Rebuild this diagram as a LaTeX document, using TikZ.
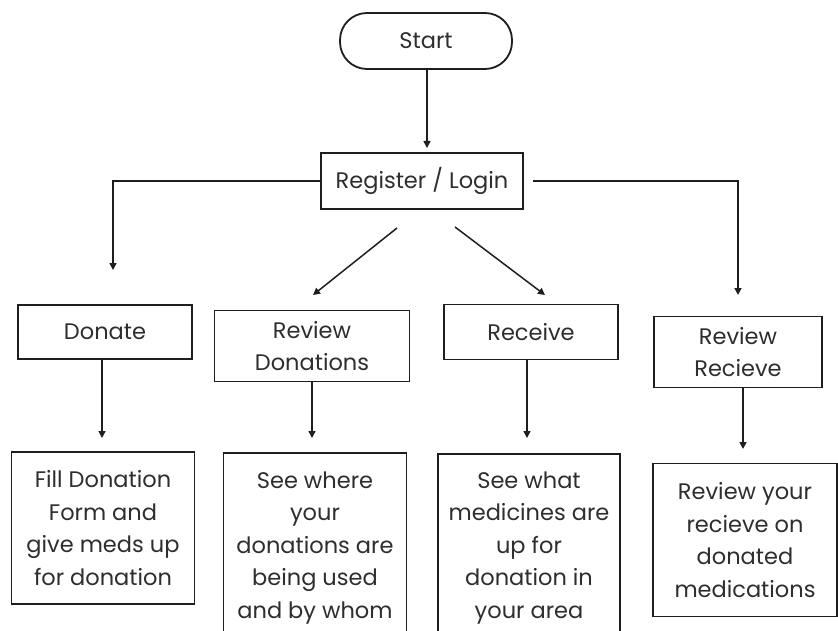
\documentclass[tikz,border=0pt]{standalone}
\usepackage{fontspec}
\setmainfont{Poppins}
\usetikzlibrary{arrows.meta}
\definecolor{txt}{HTML}{2E2E2E}
\definecolor{ln}{HTML}{1E1E1E}
\tikzset{
  boxfont/.style={font=\fontsize{22.5}{32.5}\selectfont},
  box/.style={draw=ln, line width=1.8pt, inner sep=0pt, text=txt, align=center, boxfont},
  pill/.style={box, rounded corners=27pt},
  arr/.style={draw=ln, line width=1.5pt, -{Triangle[length=7pt,width=7pt]}},
}
\begin{document}
\begin{tikzpicture}[x=1pt,y=-1pt]
\useasboundingbox (0,0) rectangle (838,631);
\fill[white] (0,0) rectangle (838,631);
\clip (0,0) rectangle (838,631);
% nodes
\node[pill, minimum width=172pt, minimum height=56pt] (start) at (426,41) {Start};
\node[box, minimum width=202pt, minimum height=56pt] (reg) at (422,181) {Register / Login};
\node[box, minimum width=174pt, minimum height=54pt] (donate) at (105,332) {Donate};
\node[box, minimum width=195pt, minimum height=71pt] (revdon) at (312,346) {Review\\Donations};
\node[box, minimum width=174pt, minimum height=55pt] (receive) at (531,332) {Receive};
\node[box, minimum width=168pt, minimum height=71pt] (revrec) at (738,352) {Review\\Recieve};
\node[box, minimum width=183pt, minimum height=152pt] (fill) at (103,528) {Fill Donation\\Form and\\give meds up\\for donation};
\node[box, minimum width=183pt, minimum height=200pt, anchor=north] (seewhere) at (315,452) {};
\node[text=txt, align=center, boxfont, anchor=north] (seewheretext) at (315,468) {See where\\your\\donations are\\being used\\and by whom};
\node[box, minimum width=182pt, minimum height=200pt, anchor=north] (seewhat) at (529,453) {};
\node[text=txt, align=center, boxfont, anchor=north] (seewhattext) at (529,468) {See what\\medicines are\\up for\\donation in\\your area};
\node[box, minimum width=184pt, minimum height=153pt] (revyour) at (745,540) {Review your\\recieve on\\donated\\medications};
% connector ends
\coordinate (t0) at (427,148);
\coordinate (tl) at (113,270);
\coordinate (tr) at (738,295);
\coordinate (d1s) at (397,228);
\coordinate (d1e) at (313,295);
\coordinate (d2s) at (455,227);
\coordinate (d2e) at (545,295);
\coordinate (t1) at (102,438);
\coordinate (t2) at (312,438);
\coordinate (t3) at (527,438);
\coordinate (t4) at (743,449);
% connectors
\draw[arr] (t0 |- start.south) -- (t0);
\draw[arr] (reg.west) -| (tl);
\draw[arr, shorten <=9pt] (reg.east) -| (tr);
\draw[arr] (d1s) -- (d1e);
\draw[arr] (d2s) -- (d2e);
\draw[arr] (t1 |- donate.south) -- (t1);
\draw[arr] (t2 |- revdon.south) -- (t2);
\draw[arr] (t3 |- receive.south) -- (t3);
\draw[arr] (t4 |- revrec.south) -- (t4);
\end{tikzpicture}
\end{document}
